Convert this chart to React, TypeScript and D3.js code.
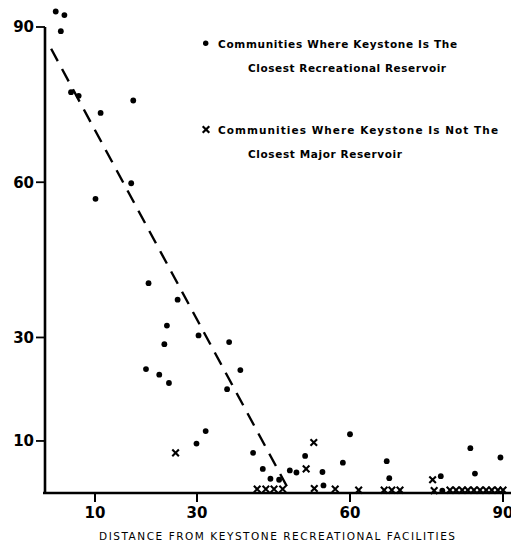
import React from "react";
import * as d3 from "d3";

const xTicks = [10, 30, 60, 90];
const yTicks = [10, 30, 60, 90];

const dotX = [2.3, 4.0, 3.3, 5.3, 6.8, 11.1, 17.5, 17.1, 10.1, 20.5, 26.2, 24.1, 30.3, 23.6, 36.3, 20.0, 22.6, 24.5, 38.5, 35.9, 31.7, 29.9, 41.0, 42.9, 44.4, 46.1, 48.2, 49.5, 51.2, 54.6, 54.8, 60.0, 58.6, 67.2, 67.7, 77.8, 78.1, 83.6, 84.5, 89.5];
const dotY = [93.0, 92.3, 89.2, 77.4, 76.7, 73.4, 75.8, 59.8, 56.8, 40.5, 37.3, 32.3, 30.4, 28.7, 29.1, 23.9, 22.8, 21.2, 23.7, 20.0, 11.9, 9.5, 7.7, 4.6, 2.7, 2.5, 4.3, 3.9, 7.1, 4.0, 1.4, 11.3, 5.8, 6.1, 2.8, 3.2, 0.4, 8.6, 3.7, 6.8];

const crossX = [25.8, 52.9, 51.4, 41.8, 43.5, 45.1, 46.8, 53.0, 57.1, 61.7, 66.7, 68.2, 69.8, 76.2, 76.5, 79.6, 80.8, 82.0, 83.1, 84.3, 85.5, 86.7, 87.8, 89.0, 90.0];
const crossY = [7.7, 9.7, 4.6, 0.7, 0.7, 0.7, 0.7, 0.8, 0.7, 0.5, 0.5, 0.5, 0.5, 2.5, 0.4, 0.5, 0.5, 0.5, 0.5, 0.5, 0.5, 0.5, 0.5, 0.5, 0.5];

const trendX = [1.4, 47.8];
const trendY = [85.8, 0.9];

const legend1 = ["Communities Where Keystone Is The", "Closest Recreational Reservoir"];
const legend2 = ["Communities Where Keystone Is Not The", "Closest Major Reservoir"];
const xTitle = "DISTANCE FROM KEYSTONE RECREATIONAL FACILITIES";

export default function App() {
  const W = 511, H = 549;
  const x = d3.scaleLinear().domain([0, 90]).range([44, 503]);
  const y = d3.scaleLinear().domain([0, 90]).range([492.7, 27]);
  const line = d3.line<number>().x((d, i) => x(trendX[i])).y((d, i) => y(trendY[i]));
  const font = "'DejaVu Sans', Verdana, sans-serif";
  const cross = (cx: number, cy: number, s: number) =>
    `M${cx - s},${cy - s}L${cx + s},${cy + s}M${cx + s},${cy - s}L${cx - s},${cy + s}`;

  return (
    <svg width={W} height={H} style={{ position: "absolute", left: 0, top: 0, background: "#fff" }} fontFamily={font}>
      {/* axes */}
      <line x1={45} x2={45} y1={y(90)} y2={494} stroke="#000" strokeWidth={2.6} />
      <line x1={43} x2={511} y1={493} y2={493} stroke="#000" strokeWidth={2.6} />
      {yTicks.map((t) => (
        <g key={"y" + t}>
          <line x1={36} x2={45} y1={y(t)} y2={y(t)} stroke="#000" strokeWidth={1.8} />
          <text x={34} y={y(t)} dy="0.36em" textAnchor="end" fontSize={15} fontWeight={600}>{t}</text>
        </g>
      ))}
      {xTicks.map((t) => (
        <g key={"x" + t}>
          <line x1={x(t)} x2={x(t)} y1={493} y2={502} stroke="#000" strokeWidth={2} />
          <text x={x(t)} y={518} textAnchor="middle" fontSize={15} fontWeight={600}>{t}</text>
        </g>
      ))}
      <text x={277} y={540} textAnchor="middle" fontSize={10.5} textLength={356} lengthAdjust="spacing" fill="#000">{xTitle}</text>

      {/* trend line */}
      <path d={line(trendX) || ""} fill="none" stroke="#000" strokeWidth={2.4} strokeDasharray="14 9" />

      {/* points */}
      {dotX.map((v, i) => (
        <circle key={"d" + i} cx={x(v)} cy={y(dotY[i])} r={2.9} fill="#000" />
      ))}
      {crossX.map((v, i) => (
        <path key={"c" + i} d={cross(x(v), y(crossY[i]), 3.3)} stroke="#000" strokeWidth={2.1} fill="none" />
      ))}

      {/* legend */}
      <circle cx={205.7} cy={43.3} r={2.7} fill="#000" />
      <text x={218} y={47.5} fontSize={10.5} fontWeight="bold" textLength={239} lengthAdjust="spacing">{legend1[0]}</text>
      <text x={248} y={71.5} fontSize={10.5} fontWeight="bold" textLength={198} lengthAdjust="spacing">{legend1[1]}</text>
      <path d={cross(206, 129.5, 3.3)} stroke="#000" strokeWidth={2.2} fill="none" />
      <text x={218} y={133.5} fontSize={10.5} fontWeight="bold" textLength={280} lengthAdjust="spacing">{legend2[0]}</text>
      <text x={248} y={157.5} fontSize={10.5} fontWeight="bold" textLength={154} lengthAdjust="spacing">{legend2[1]}</text>
    </svg>
  );
}
